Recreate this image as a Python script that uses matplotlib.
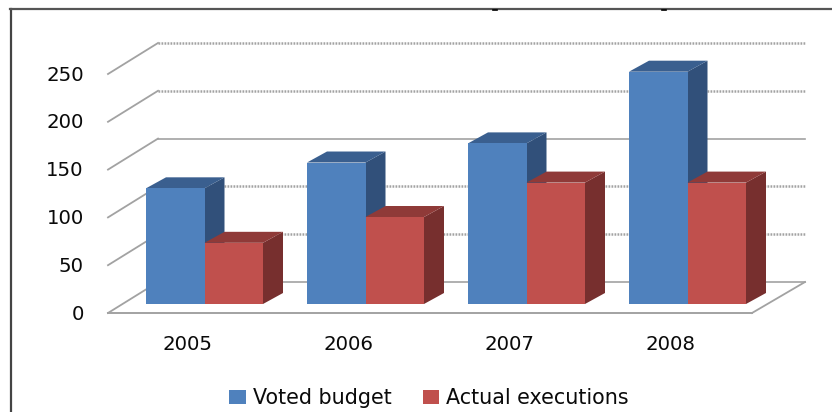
import matplotlib
matplotlib.use("Agg")
import matplotlib.pyplot as plt
from matplotlib.patches import Polygon, Rectangle
from matplotlib.lines import Line2D

W, H = 832, 412
years = ["2005", "2006", "2007", "2008"]
voted_budget = [121, 148, 168, 243]
actual_executions = [64, 91, 127, 127]
y_ticks = [0, 50, 100, 150, 200, 250]

BLUE = ("#4F81BD", "#3A5F8F", "#31507A")
RED = ("#C0504D", "#8F3A38", "#772F2E")
GRID = "#a2a2a2"
PX_Y = 0.956   # px per value unit
PX_X = 161.0   # px per category

fig = plt.figure(figsize=(W / 100, H / 100), dpi=100, facecolor="white")
L, R, T, B = 108, 805, 43, 313
ax = fig.add_axes([L / W, 1 - B / H, (R - L) / W, (B - T) / H])
x0 = 204.5
y_floor = 304
ax.set_xlim((L - x0) / PX_X, (R - x0) / PX_X)
ax.set_ylim((y_floor - B) / PX_Y, (y_floor - T) / PX_Y)
for s in ax.spines.values():
    s.set_visible(False)

front_off = (y_floor - B) / PX_Y          # value shift of the front floor edge
back_off = (y_floor - 282) / PX_Y         # value shift of the back wall floor
wall_dx = 50 / PX_X
xl, xr = ax.get_xlim()

# tick labels through the axes
ax.set_yticks([v + front_off + 1 for v in y_ticks], [str(v) for v in y_ticks])
ax.set_xticks([i - 17 / PX_X for i in range(len(years))], years)
ax.tick_params(axis="both", length=0, labelsize=14.2, labelcolor="#0a0a0a")
ax.tick_params(axis="y", pad=17.5)
ax.tick_params(axis="x", pad=16)

# wall gridlines and left-wall diagonals
for v in y_ticks:
    solid = v in (0, 150)
    ls = "-" if solid else (0, (0.7, 0.5))
    yb = v + back_off
    yf = v + front_off
    ax.plot([xl + wall_dx, xr], [yb, yb], color=GRID, lw=1.2 if solid else 1.8, ls=ls, zorder=1, clip_on=False)
    ax.plot([xl, xl + wall_dx], [yf, yb], color=GRID, lw=1.3, zorder=1, clip_on=False)
# floor
ax.plot([xl, xr - 53 / PX_X], [front_off, front_off], color=GRID, lw=1.4, zorder=1, clip_on=False)
ax.plot([xr - 53 / PX_X, xr], [front_off, back_off], color=GRID, lw=1.3, zorder=1, clip_on=False)

bar_w = 58.5 / PX_X
dx = 20 / PX_X
dy = 11 / PX_Y


def bar3d(x, v, cols, z):
    """Front face via ax.bar, top and side faces from the same value."""
    ax.add_patch(Polygon([(x + bar_w, 0), (x + bar_w + dx, dy), (x + bar_w + dx, v + dy), (x + bar_w, v)],
                         fc=cols[2], ec="none", zorder=z))
    ax.add_patch(Polygon([(x, v), (x + dx, v + dy), (x + bar_w + dx, v + dy), (x + bar_w, v)],
                         fc=cols[1], ec="none", zorder=z))
    ax.bar(x, v, width=bar_w, align="edge", color=cols[0], zorder=z + 0.1)


for i in range(len(years)):
    bar3d(i - bar_w, voted_budget[i], BLUE, 2 + i)
    bar3d(i, actual_executions[i], RED, 2.5 + i)

# outer frame: left and top edges only
fig.add_artist(Line2D([10.5 / W, 10.5 / W], [0, 1 - 9 / H], color="#444444", lw=1.6))
fig.add_artist(Line2D([10 / W, 1], [1 - 9 / H, 1 - 9 / H], color="#555555", lw=1.6))
# remnants of a cropped title touching the frame
for px in (493, 662):
    fig.add_artist(Line2D([px / W, (px + 4) / W], [1 - 10 / H, 1 - 10 / H], color="#000000", lw=1.2))

handles = [Rectangle((0, 0), 1, 1, fc=BLUE[0]), Rectangle((0, 0), 1, 1, fc=RED[0])]
fig.legend(handles, ["Voted budget", "Actual executions"], loc="center",
           bbox_to_anchor=(429 / W, 1 - 398 / H), ncol=2, frameon=False, fontsize=14.9,
           labelcolor="#0a0a0a", handlelength=0.78, handleheight=0.65, handletextpad=0.35,
           columnspacing=1.5, borderpad=0, borderaxespad=0)

fig.savefig("out.png", dpi=100)
